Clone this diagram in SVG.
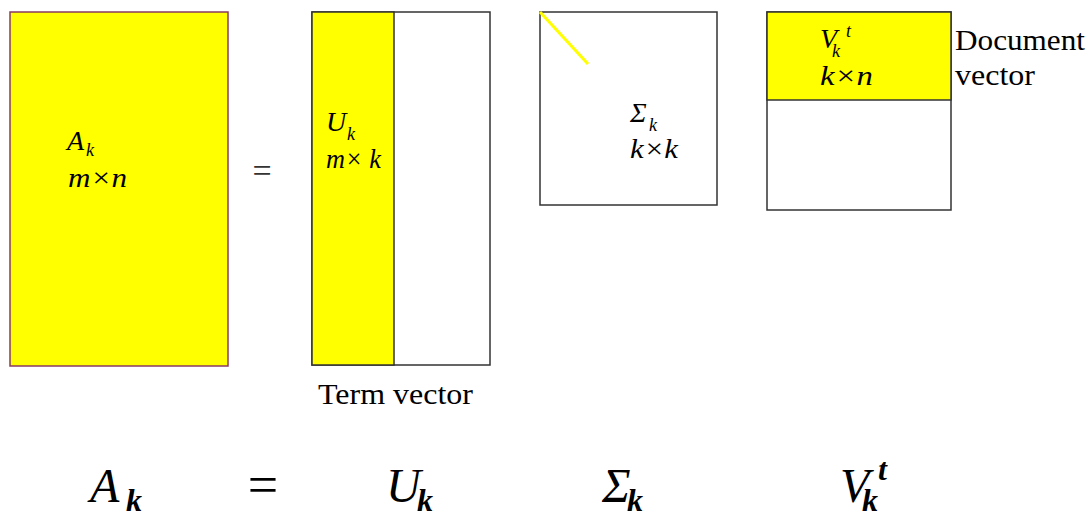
<svg xmlns="http://www.w3.org/2000/svg" width="1091" height="516" viewBox="0 0 1091 516">
<style>
.box{stroke:#333;stroke-width:1.5}
.y{fill:#ffff00}
.w{fill:#fff}
.m{font-family:"Liberation Serif","DejaVu Serif",serif;font-style:italic;fill:#000}
.lbl{font-size:28px}
.sub{font-size:18px}
.big{font-size:48px}
.bsub{font-size:32px;font-weight:bold}
.t{font-family:"Liberation Serif","DejaVu Serif",serif;font-size:29px;fill:#000}
.eq1{font-family:"Liberation Serif",serif;font-size:34px;fill:#333}
.eq2{font-family:"Liberation Serif",serif;font-size:54px;fill:#000}
</style>
<rect width="1091" height="516" fill="#fff"/>
<g id="A">
<rect x="10" y="12" width="218" height="354" class="y" stroke="#8b3a62" stroke-width="1.5"/>
<text class="m lbl" x="67" y="150">A<tspan class="sub" x="86" y="156">k</tspan></text>
<text class="m lbl" x="68" y="187" textLength="59" lengthAdjust="spacingAndGlyphs">m×n</text>
</g>
<g id="eq1">
<text class="eq1" x="262" y="182" text-anchor="middle">=</text>
</g>
<g id="U">
<rect x="312" y="12" width="178" height="353" class="box w"/>
<rect x="312" y="12" width="82" height="353" class="box y"/>
<text class="m lbl" x="326" y="131">U<tspan class="sub" x="347" y="140">k</tspan></text>
<text class="m lbl" x="326" y="168" textLength="55" lengthAdjust="spacingAndGlyphs">m× k</text>
</g>
<g id="Sigma">
<rect x="540" y="12" width="177" height="193" class="box w"/>
<line x1="540" y1="12" x2="588" y2="64" stroke="#ffff00" stroke-width="3"/>
<text class="m lbl" x="630" y="122">Σ<tspan class="sub" x="649" y="131">k</tspan></text>
<text class="m lbl" x="630" y="158" textLength="48" lengthAdjust="spacingAndGlyphs">k×k</text>
</g>
<g id="V">
<rect x="767" y="12" width="184" height="198" class="box w"/>
<rect x="767" y="12" width="184" height="88" class="box y"/>
<text class="m lbl" x="820" y="48">V<tspan class="sub" x="832" y="57">k</tspan><tspan class="sub" x="846" y="37">t</tspan></text>
<text class="m lbl" x="820" y="85" textLength="53" lengthAdjust="spacingAndGlyphs">k×n</text>
</g>
<g id="labels">
<text class="t" x="955" y="50" textLength="130" lengthAdjust="spacingAndGlyphs">Document</text>
<text class="t" x="955" y="85" textLength="80" lengthAdjust="spacingAndGlyphs">vector</text>
<text class="t" x="318" y="404" textLength="155" lengthAdjust="spacingAndGlyphs">Term vector</text>
</g>
<g id="formula">
<text class="m big" x="90" y="502">A<tspan class="bsub" x="126" y="511">k</tspan></text>
<text class="eq2" x="263" y="503" text-anchor="middle">=</text>
<text class="m big" x="386" y="502">U<tspan class="bsub" x="417" y="511">k</tspan></text>
<text class="m big" x="602" y="502">Σ<tspan class="bsub" x="627" y="511">k</tspan></text>
<text class="m big" x="840" y="502">V<tspan class="bsub" x="862" y="511">k</tspan><tspan class="bsub" x="878" y="480">t</tspan></text>
</g>
<g id="connectors"></g>
</svg>
